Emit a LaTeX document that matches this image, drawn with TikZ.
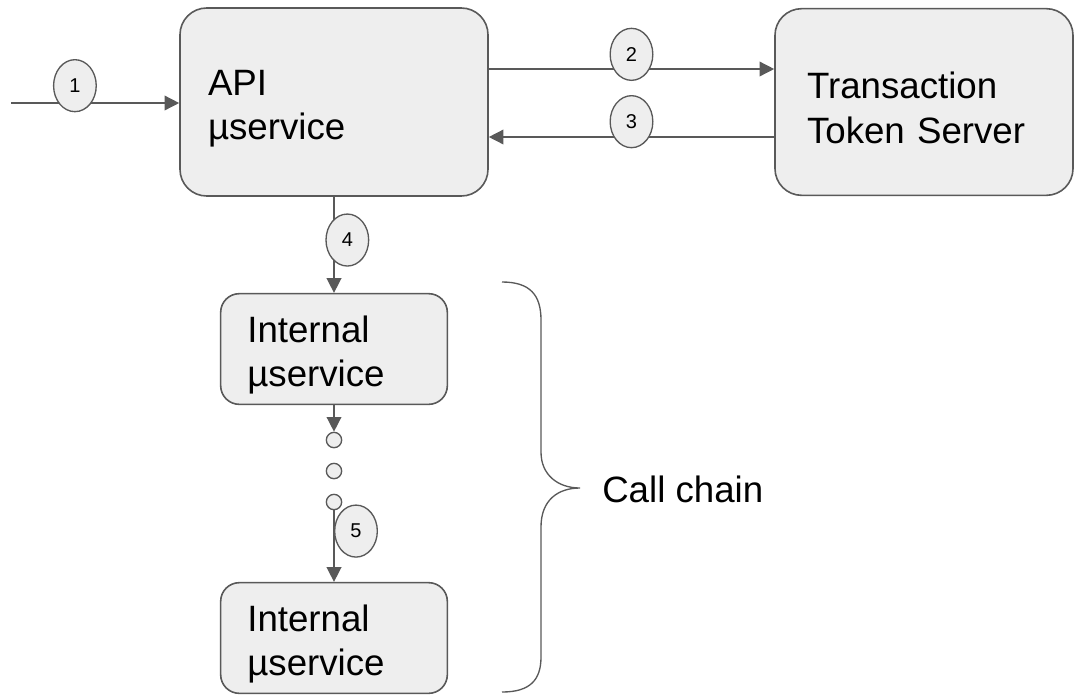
\documentclass[tikz,border=0pt]{standalone}
\usepackage{fontspec}
\setmainfont{Liberation Sans}
\usetikzlibrary{shapes.geometric,arrows.meta}
\definecolor{linegray}{RGB}{89,89,89}
\definecolor{boxgray}{RGB}{238,238,238}
\tikzstyle{block} = [draw=linegray, fill=boxgray, rectangle, line width=1.2pt,
    rounded corners=20pt, align=left, inner xsep=21pt,
    font=\fontsize{27.5}{33.5}\selectfont,
    execute at begin node={\rule{0pt}{29pt}}]
\tikzstyle{bigblock} = [block, text width=189pt, minimum height=141pt]
\tikzstyle{smallblock} = [block, rounded corners=14pt, inner xsep=20pt,
    text width=130pt, minimum height=83pt]
\tikzstyle{badge} = [draw=linegray, fill=boxgray, ellipse, line width=1pt,
    minimum width=32pt, minimum height=39pt, inner sep=0pt,
    font=\fontsize{15}{18}\selectfont]
\tikzstyle{chaindot} = [draw=linegray, fill=boxgray, circle, line width=1pt,
    minimum size=11.5pt, inner sep=0pt]
\tikzstyle{flow} = [draw=linegray, line width=1.1pt,
    -{Triangle[length=11pt,width=11pt]}]

\begin{document}
\begin{tikzpicture}[x=0.75pt, y=-0.75pt]
    \useasboundingbox (0,0) rectangle (1075,694);
    \coordinate (in) at (11,103);
    \node [bigblock] (api) at (334,102) {API\\µservice};
    \node [bigblock, node distance=442.5pt, right of=api, inner xsep=24pt,
        text width=175.5pt, minimum height=140pt] (tts) {Transaction\\Token Server};
    \node [smallblock, node distance=185.25pt, below of=api] (int1) {Internal\\µservice};
    \node [chaindot, node distance=68.25pt, below of=int1] (d1) {};
    \node [chaindot, node distance=23.25pt, below of=d1] (d2) {};
    \node [chaindot, node distance=23.25pt, below of=d2] (d3) {};
    \node [smallblock, node distance=102pt, below of=d3] (int2) {Internal\\µservice};
    \draw [flow] (in) -- node [badge, pos=0.38, yshift=13pt] (n1) {1} (in -| api.west);
    \draw [flow] ([yshift=24.75pt]api.east) -- node [badge, pos=0.5, yshift=11pt] (n2) {2}
        ([yshift=24.75pt]api.east -| tts.west);
    \draw [flow] ([yshift=-26.25pt]api.east -| tts.west) -- node [badge, pos=0.5, yshift=11.5pt] (n3) {3}
        ([yshift=-26.25pt]api.east);
    \draw [flow] (api) -- node [badge, pos=0.45, xshift=10pt] (n4) {4} (int1);
    \draw [flow] (int1) -- (d1);
    \draw [flow] (d3) -- node [badge, pos=0.29, xshift=16.5pt] (n5) {5} (int2);
    % brace for the call chain
    \draw [linegray, line width=1pt] (502,282) .. controls (530,282) and (541,295) .. (541,320)
        -- (541,452) .. controls (541,475) and (558,488) .. (580,488)
        .. controls (558,488) and (541,500) .. (541,527)
        -- (541,657) .. controls (541,680) and (530,692) .. (502,692);
    \node [anchor=west, inner sep=0pt, font=\fontsize{27.5}{33}\selectfont] (chain) at (602,489) {Call chain};
\end{tikzpicture}
\end{document}
